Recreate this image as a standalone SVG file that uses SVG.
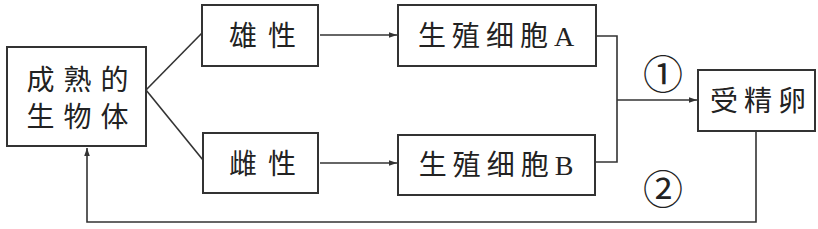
<svg xmlns="http://www.w3.org/2000/svg" width="818" height="229" viewBox="0 0 818 229">
<style>
.box{fill:#fff;stroke:#333;stroke-width:2}
.ln{fill:none;stroke:#333;stroke-width:1.6}
text{font-family:"Liberation Serif","Noto Sans CJK SC",serif;fill:#222;font-size:28px;text-anchor:middle;dominant-baseline:central}
.num{font-size:40px}
</style>
<defs>
<marker id="ah" viewBox="0 0 10 10" refX="10" refY="5" markerWidth="10" markerHeight="8" markerUnits="userSpaceOnUse" orient="auto">
<path d="M0,1.5 L10,5 L0,8.5 Z" fill="#333"/>
</marker>
</defs>
<rect width="818" height="229" fill="#fff"/>
<g id="connectors">
<path class="ln" d="M146,90 L202,33"/>
<path class="ln" d="M146,90 L203,160"/>
<path class="ln" d="M320,35 L397,35" marker-end="url(#ah)"/>
<path class="ln" d="M320,163 L397,163" marker-end="url(#ah)"/>
<path class="ln" d="M596,36 L617,36 L617,162 L596,162"/>
<path class="ln" d="M617,100 L697,100" marker-end="url(#ah)"/>
<path class="ln" d="M756,131 L756,222 L87,222 L87,148" marker-end="url(#ah)"/>
<text class="num" x="663" y="75">①</text>
<text class="num" x="663" y="190">②</text>
</g>
<g id="organism">
<rect class="box" x="7" y="47" width="139" height="99"/>
<text x="82" y="80" letter-spacing="9">成熟的</text>
<text x="82" y="117" letter-spacing="9">生物体</text>
</g>
<g id="male">
<rect class="box" x="202" y="5" width="116" height="61"/>
<text x="268" y="36" letter-spacing="11">雄性</text>
</g>
<g id="female">
<rect class="box" x="203" y="133" width="115" height="60"/>
<text x="268" y="164" letter-spacing="11">雌性</text>
</g>
<g id="cellA">
<rect class="box" x="398" y="5" width="198" height="61"/>
<text x="499" y="36" letter-spacing="6">生殖细胞A</text>
</g>
<g id="cellB">
<rect class="box" x="398" y="135" width="197" height="60"/>
<text x="499" y="165" letter-spacing="6">生殖细胞B</text>
</g>
<g id="zygote">
<rect class="box" x="698" y="70" width="117" height="61"/>
<text x="761" y="101" letter-spacing="6">受精卵</text>
</g>
</svg>
